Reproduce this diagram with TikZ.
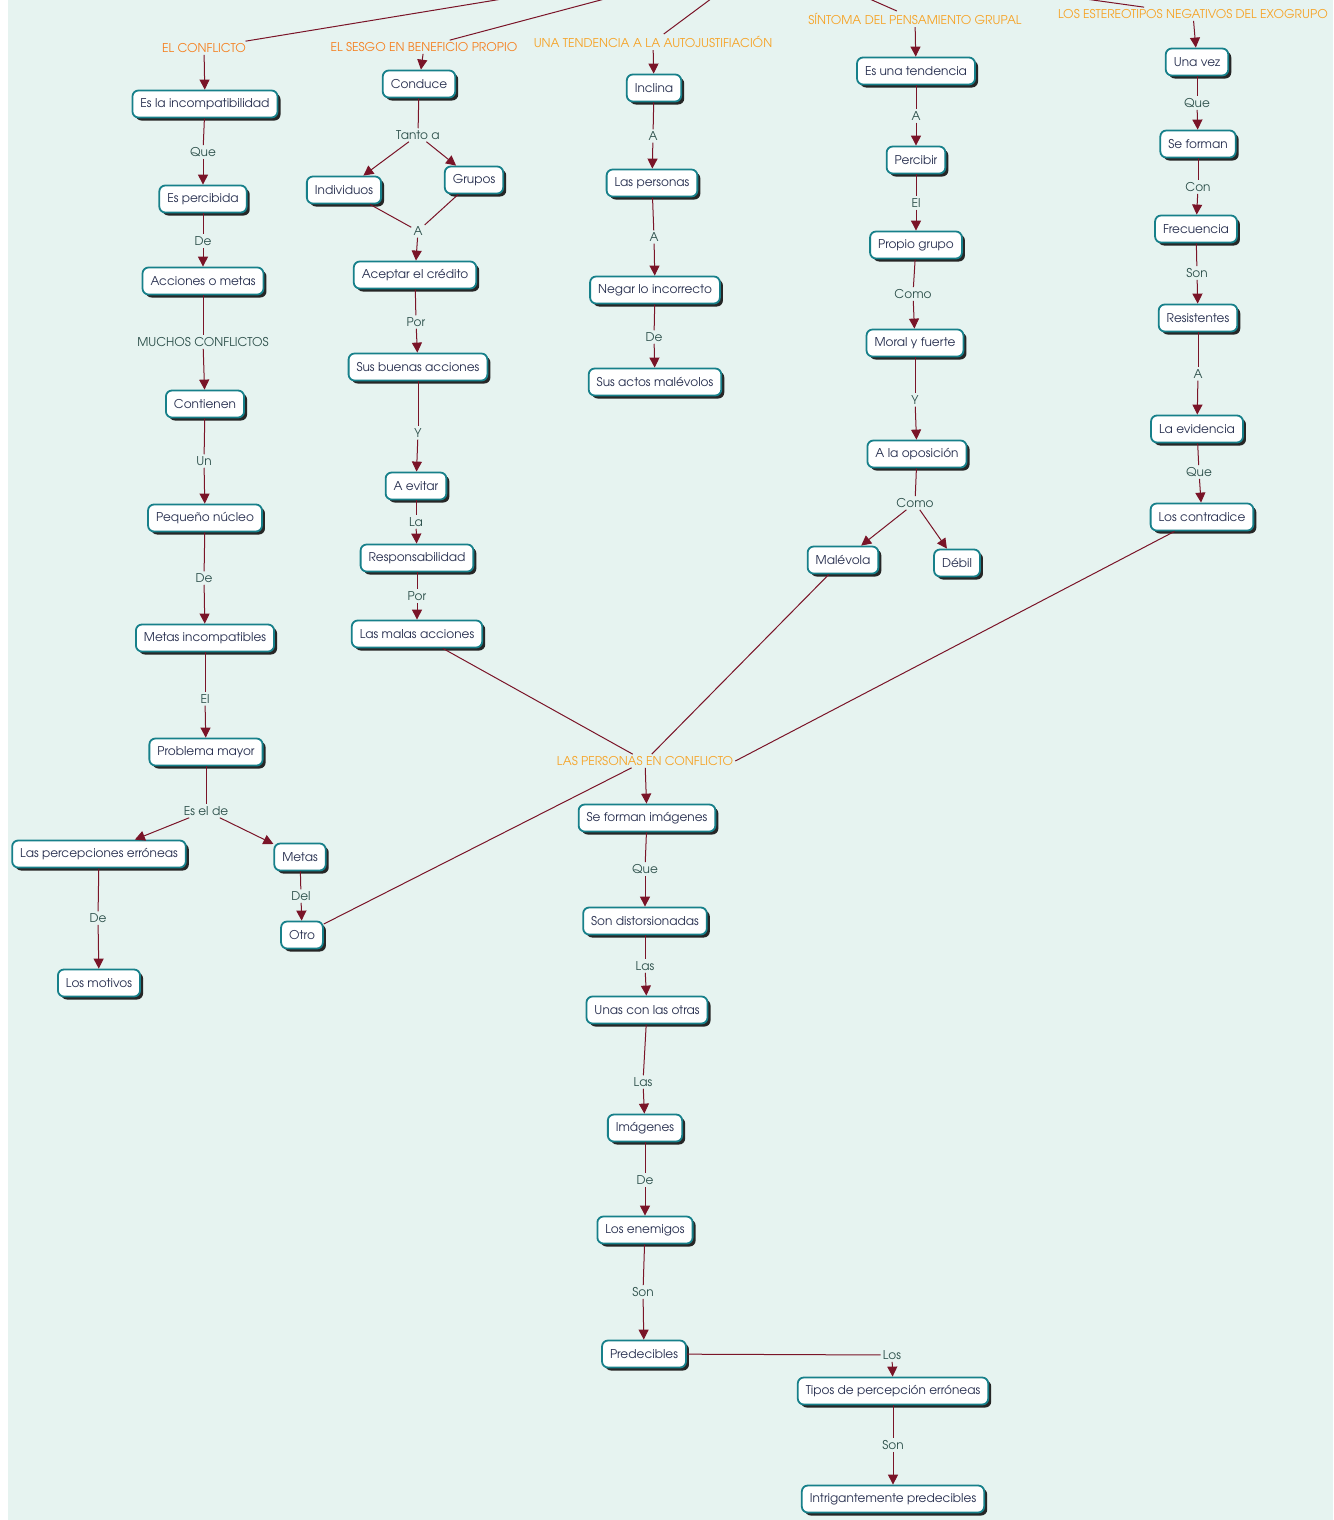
\documentclass[tikz,border=0pt]{standalone}
\usepackage{fontspec}
\setmainfont{TeX Gyre Adventor}
\usepackage{tikz}
\usetikzlibrary{arrows.meta,shadows}
\definecolor{mapbg}{HTML}{E6F3F0}
\definecolor{cmteal}{HTML}{17808A}
\definecolor{cmline}{HTML}{7A1428}
\definecolor{cmtext}{HTML}{283050}
\definecolor{cmlink}{HTML}{2D504B}
\definecolor{cmorangeA}{HTML}{F58020}
\definecolor{cmorangeB}{HTML}{F6A326}
\newcommand\mapfont{\fontsize{12.1}{14}\selectfont}
\tikzset{
  concept/.style={
    shape = rectangle,
    rounded corners = 6pt,
    draw = cmteal,
    line width = 1.8pt,
    fill = white,
    text = cmtext,
    inner xsep = 8pt,
    inner ysep = 2pt,
    minimum height = 27pt,
    drop shadow = {shadow xshift=3pt, shadow yshift=-3pt, fill=black!85, opacity=1},
    font = \mapfont
  },
}
\tikzset{
  link/.style={
    fill = mapbg,
    text = cmlink,
    inner sep = 2pt,
    font = \mapfont
  },
  topic/.style={
    link,
    text = cmorangeB
  },
  conn/.style={
    draw = cmline,
    line width = 1pt
  },
  arr/.style={
    conn,
    -{Triangle[length=10pt,width=10pt]}
  },
}

\begin{document}
\begin{tikzpicture}[x=1pt, y=-1pt]
    \useasboundingbox (0,0) rectangle (1333,1520);
    \clip (0,0) rectangle (1333,1520);
    \fill[white] (0,0) rectangle (1333,1520);
    \fill[mapbg] (8,0) rectangle (1333,1520);

    \coordinate (raiz) at (770,-45);

    % el conflicto
    \node[topic, text=cmorangeA] (conf) at (204,48) {EL CONFLICTO};
    \node[concept] (incomp) at (205,104) {Es la incompatibilidad};
    \node[link] (l1) at (203,152) {Que};
    \node[concept] (percib) at (203,199) {Es percibida};
    \node[link] (l2) at (203,241) {De};
    \node[concept] (acc) at (203,281) {Acciones o metas};
    \node[link] (l3) at (203,342) {MUCHOS CONFLICTOS};
    \node[concept] (cont) at (205,404) {Contienen};
    \node[link] (l4) at (204,461) {Un};
    \node[concept] (nucleo) at (205,518) {Pequeño núcleo};
    \node[link] (l5) at (204,578) {De};
    \node[concept] (metinc) at (205,638) {Metas incompatibles};
    \node[link] (l6) at (205,699) {El};
    \node[concept] (prob) at (206,752) {Problema mayor};
    \node[link] (l7) at (206,811) {Es el de};
    \node[concept] (perc) at (99,854) {Las percepciones erróneas};
    \node[concept] (metas) at (300,857) {Metas};
    \node[link] (l8) at (98,918) {De};
    \node[concept] (motiv) at (99,983) {Los motivos};
    \node[link] (l9) at (301,896) {Del};
    \node[concept] (otro) at (302,935) {Otro};

    % el sesgo
    \node[topic, text=cmorangeA] (sesgo) at (424,47) {EL SESGO EN BENEFICIO PROPIO};
    \node[concept] (conduce) at (419,84) {Conduce};
    \node[link] (m1) at (418,135) {Tanto a};
    \node[concept] (indiv) at (344,190) {Individuos};
    \node[concept] (grupos) at (474,180) {Grupos};
    \node[link] (m2) at (418,231) {A};
    \node[concept] (acept) at (415,275) {Aceptar el crédito};
    \node[link] (m3) at (416,322) {Por};
    \node[concept] (buenas) at (418,367) {Sus buenas acciones};
    \node[link] (m4) at (418,433) {Y};
    \node[concept] (evitar) at (416,486) {A evitar};
    \node[link] (m5) at (416,522) {La};
    \node[concept] (resp) at (417,558) {Responsabilidad};
    \node[link] (m6) at (417,596) {Por};
    \node[concept] (malas) at (417,634) {Las malas acciones};

    % autojustificacion
    \node[topic] (tend) at (653,42) {UNA TENDENCIA A LA AUTOJUSTIFIACIÓN};
    \node[concept] (inclina) at (654,88) {Inclina};
    \node[link] (n1) at (653,136) {A};
    \node[concept] (perso) at (652,183) {Las personas};
    \node[link] (n2) at (654,237) {A};
    \node[concept] (negar) at (655,290) {Negar lo incorrecto};
    \node[link] (n3) at (654,337) {De};
    \node[concept] (actos) at (655,382) {Sus actos malévolos};

    % pensamiento grupal
    \node[topic] (sint) at (915,19) {SÍNTOMA DEL PENSAMIENTO GRUPAL};
    \node[concept] (estend) at (916,71) {Es una tendencia};
    \node[link] (p1) at (916,116) {A};
    \node[concept] (percibir) at (916,160) {Percibir};
    \node[link] (p2) at (916,203) {El};
    \node[concept] (propio) at (916,245) {Propio grupo};
    \node[link] (p3) at (913,294) {Como};
    \node[concept] (moral) at (915,343) {Moral y fuerte};
    \node[link] (p4) at (915,400) {Y};
    \node[concept] (oposic) at (917,454) {A la oposición};
    \node[link] (p5) at (915,503) {Como};
    \node[concept] (malev) at (843,560) {Malévola};
    \node[concept] (debil) at (957,563) {Débil};

    % estereotipos
    \node[topic] (estereo) at (1193,14) {LOS ESTEREOTIPOS NEGATIVOS DEL EXOGRUPO};
    \node[concept] (unavez) at (1197,62) {Una vez};
    \node[link] (q1) at (1197,103) {Que};
    \node[concept] (seform) at (1198,144) {Se forman};
    \node[link] (q2) at (1198,187) {Con};
    \node[concept] (frec) at (1196,229) {Frecuencia};
    \node[link] (q3) at (1197,273) {Son};
    \node[concept] (resist) at (1198,318) {Resistentes};
    \node[link] (q4) at (1198,374) {A};
    \node[concept] (evid) at (1197,429) {La evidencia};
    \node[link] (q5) at (1199,472) {Que};
    \node[concept] (contra) at (1202,517) {Los contradice};

    % personas en conflicto
    \node[topic] (pconf) at (645,761) {LAS PERSONAS EN CONFLICTO};
    \node[concept] (imag) at (647,818) {Se forman imágenes};
    \node[link] (r1) at (645,869) {Que};
    \node[concept] (dist) at (645,921) {Son distorsionadas};
    \node[link] (r2) at (645,966) {Las};
    \node[concept] (unas) at (647,1010) {Unas con las otras};
    \node[link] (r3) at (643,1082) {Las};
    \node[concept] (imgs) at (645,1128) {Imágenes};
    \node[link] (r4) at (645,1180) {De};
    \node[concept] (enem) at (645,1230) {Los enemigos};
    \node[link] (r5) at (643,1292) {Son};
    \node[concept] (pred) at (644,1354) {Predecibles};
    \node[link] (r6) at (892,1355) {Los};
    \node[concept] (tipos) at (893,1391) {Tipos de percepción erróneas};
    \node[link] (r7) at (893,1445) {Son};
    \node[concept] (intrig) at (893,1499) {Intrigantemente predecibles};

    \draw[conn] (conf) -- (raiz);
    \draw[conn] (sesgo) -- (raiz);
    \draw[conn] (tend) -- (raiz);
    \draw[conn] (sint) -- (raiz);
    \draw[conn] (estereo) -- (raiz);

    \draw[arr] (conf) -- (incomp);
    \draw[conn] (incomp) -- (l1);   \draw[arr] (l1) -- (percib);
    \draw[conn] (percib) -- (l2);   \draw[arr] (l2) -- (acc);
    \draw[conn] (acc) -- (l3);      \draw[arr] (l3) -- (cont);
    \draw[conn] (cont) -- (l4);     \draw[arr] (l4) -- (nucleo);
    \draw[conn] (nucleo) -- (l5);   \draw[arr] (l5) -- (metinc);
    \draw[conn] (metinc) -- (l6);   \draw[arr] (l6) -- (prob);
    \draw[conn] (prob) -- (l7);
    \draw[arr] (l7) -- (perc);
    \draw[arr] (l7) -- (metas);
    \draw[conn] (perc) -- (l8);     \draw[arr] (l8) -- (motiv);
    \draw[conn] (metas) -- (l9);    \draw[arr] (l9) -- (otro);

    \draw[arr] (sesgo) -- (conduce);
    \draw[conn] (conduce) -- (m1);
    \draw[arr] (m1) -- (indiv);
    \draw[arr] (m1) -- (grupos);
    \draw[conn] (indiv) -- (m2);
    \draw[conn] (grupos) -- (m2);
    \draw[arr] (m2) -- (acept);
    \draw[conn] (acept) -- (m3);    \draw[arr] (m3) -- (buenas);
    \draw[conn] (buenas) -- (m4);   \draw[arr] (m4) -- (evitar);
    \draw[conn] (evitar) -- (m5);   \draw[arr] (m5) -- (resp);
    \draw[conn] (resp) -- (m6);     \draw[arr] (m6) -- (malas);

    \draw[arr] (tend) -- (inclina);
    \draw[conn] (inclina) -- (n1);  \draw[arr] (n1) -- (perso);
    \draw[conn] (perso) -- (n2);    \draw[arr] (n2) -- (negar);
    \draw[conn] (negar) -- (n3);    \draw[arr] (n3) -- (actos);

    \draw[arr] (sint) -- (estend);
    \draw[conn] (estend) -- (p1);   \draw[arr] (p1) -- (percibir);
    \draw[conn] (percibir) -- (p2); \draw[arr] (p2) -- (propio);
    \draw[conn] (propio) -- (p3);   \draw[arr] (p3) -- (moral);
    \draw[conn] (moral) -- (p4);    \draw[arr] (p4) -- (oposic);
    \draw[conn] (oposic) -- (p5);
    \draw[arr] (p5) -- (malev);
    \draw[arr] (p5) -- (debil);

    \draw[arr] (estereo) -- (unavez);
    \draw[conn] (unavez) -- (q1);   \draw[arr] (q1) -- (seform);
    \draw[conn] (seform) -- (q2);   \draw[arr] (q2) -- (frec);
    \draw[conn] (frec) -- (q3);     \draw[arr] (q3) -- (resist);
    \draw[conn] (resist) -- (q4);   \draw[arr] (q4) -- (evid);
    \draw[conn] (evid) -- (q5);     \draw[arr] (q5) -- (contra);

    \draw[conn] (otro) -- (pconf);
    \draw[conn] (malas) -- (pconf);
    \draw[conn] (malev) -- (pconf);
    \draw[conn] (contra) -- (pconf.east);

    \draw[arr] (pconf) -- (imag);
    \draw[conn] (imag) -- (r1);     \draw[arr] (r1) -- (dist);
    \draw[conn] (dist) -- (r2);     \draw[arr] (r2) -- (unas);
    \draw[conn] (unas) -- (r3);     \draw[arr] (r3) -- (imgs);
    \draw[conn] (imgs) -- (r4);     \draw[arr] (r4) -- (enem);
    \draw[conn] (enem) -- (r5);     \draw[arr] (r5) -- (pred);
    \draw[conn] (pred) -- (r6);     \draw[arr] (r6) -- (tipos);
    \draw[conn] (tipos) -- (r7);    \draw[arr] (r7) -- (intrig);
\end{tikzpicture}
\end{document}
